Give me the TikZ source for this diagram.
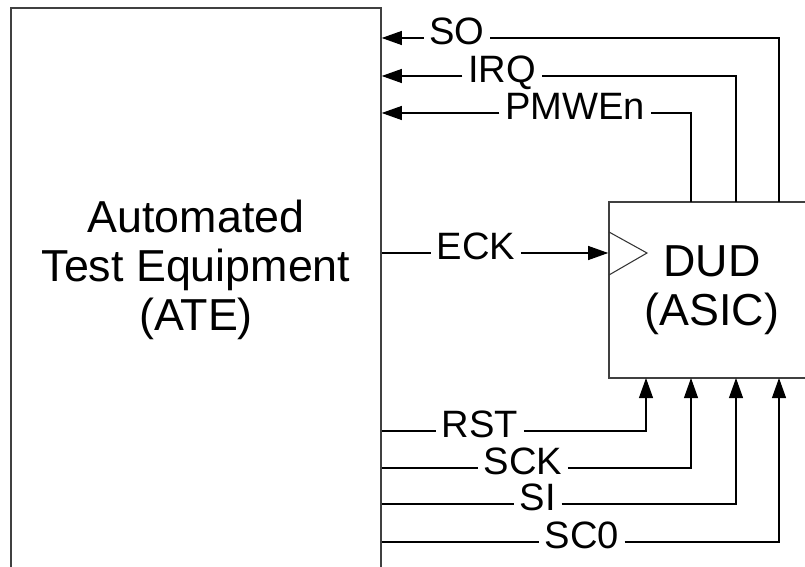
\documentclass[tikz,border=0pt]{standalone}
\usepackage{fontspec}
\setmainfont{Liberation Sans}
\usepackage{tikz}
\usetikzlibrary{positioning, arrows.meta}

\begin{document}
\begin{tikzpicture}[
            x=0.02cm, y=-0.02cm,
            unit/.style={
                    draw=black!75,
                    line width=0.9pt,
                    inner sep=0pt,
                    align=center,
                    font=\fontsize{25.5pt}{27.7pt}\selectfont
                },
            bigtext/.style={
                    align=center,
                    inner sep=0pt,
                    font=\fontsize{25.5pt}{27.7pt}\selectfont
                },
            sig/.style={
                    inner xsep=3pt,
                    inner ysep=0pt,
                    text height=0.72em,
                    text depth=0pt,
                    font=\fontsize{21.7pt}{26pt}\selectfont
                },
            wire/.style={
                    line width=0.7pt
                },
            arrow/.style={
                    -{Triangle[length=11.5pt,width=8pt]},
                    line width=0.7pt
                }
        ]

        \useasboundingbox (0,0) rectangle (805,567);
        \clip (0,0) rectangle (805,567);


        \node[unit, minimum width=7.4cm, minimum height=11.84cm] (ate) at (196,304) {};
        \node[bigtext] (atetext) at (196,270)
        {Automated\\Test Equipment\\(ATE)};


        \node[unit, minimum width=4.12cm, minimum height=3.52cm] (dud) at (712,290)
        {DUD\\(ASIC)};
        \draw[line width=0.6pt, black!80] (609,232) -- (647,253) -- (609,275);


        \coordinate (pinPMWEn) at (691,202);
        \coordinate (pinIRQ) at (736,202);
        \coordinate (pinSO) at (779,202);
        \coordinate (pinRST) at (646,378);
        \coordinate (pinSCK) at (691,378);
        \coordinate (pinSI) at (736,378);
        \coordinate (pinSCO) at (779,378);


        \node[sig] (so) at (457,38) {SO};
        \node[sig] (irq) at (502,76) {IRQ};
        \node[sig] (pmwen) at (575,113) {PMWEn};
        \node[sig] (eck) at (476,253) {ECK};
        \node[sig] (rst) at (480,431) {RST};
        \node[sig] (sck) at (523,468) {SCK};
        \node[sig] (si) at (538,504) {SI};
        \node[sig] (sco) at (582,542) {SC0};


        \draw[wire](pinSO) |- (so);
        \draw[arrow](so) -- (ate.east |- so);
        \draw[wire](pinIRQ) |- (irq);
        \draw[arrow](irq) -- (ate.east |- irq);
        \draw[wire](pinPMWEn) |- (pmwen);
        \draw[arrow](pmwen) -- (ate.east |- pmwen);


        \draw[wire](ate.east |- eck) -- (eck);
        \draw[arrow](eck) -- (dud.west |- eck);


        \draw[wire](ate.east |- rst) -- (rst);
        \draw[arrow](rst) -| (pinRST);
        \draw[wire](ate.east |- sck) -- (sck);
        \draw[arrow](sck) -| (pinSCK);
        \draw[wire](ate.east |- si) -- (si);
        \draw[arrow](si) -| (pinSI);
        \draw[wire](ate.east |- sco) -- (sco);
        \draw[arrow](sco) -| (pinSCO);


    \end{tikzpicture}
\end{document}
